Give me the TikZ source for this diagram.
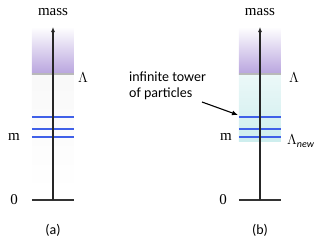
\documentclass[tikz,border=0pt]{standalone}
\usepackage{fontspec}
\setmainfont{Liberation Serif}
\newfontfamily\labelsans{Carlito}
\usetikzlibrary{arrows.meta}
\definecolor{purp}{RGB}{184,164,222}
\definecolor{tealtop}{RGB}{236,248,248}
\definecolor{tealbot}{RGB}{206,238,238}
\definecolor{lvl}{RGB}{64,96,232}
\tikzset{
  serlab/.style={font=\fontsize{15}{17}\selectfont, inner sep=0pt},
  sanslab/.style={font=\labelsans\fontsize{14}{16}\selectfont, inner sep=0pt},
  level/.style={draw=lvl, line width=1.4pt},
  cutline/.style={draw=gray!55, line width=1.4pt},
  axisline/.style={draw=black!85, line width=1.1pt, -{Latex[length=5pt,width=4pt]}},
  baseline/.style={draw=black!80, line width=1.4pt},
}
\begin{document}
\begin{tikzpicture}[x=1pt,y=-1pt]
\useasboundingbox (0,0) rectangle (317,242);
% ---------- panel (a)
\shade[top color=white, bottom color=purp] (32,27) rectangle (74,74);
\shade[top color=gray!5, bottom color=white] (32,74) rectangle (74,192);
\draw[cutline] (32,74) -- (74,74);
\foreach \yy in {117,129,137} \draw[level] (32,\yy) -- (74,\yy);
\draw[baseline] (32,200) -- (74,200);
\coordinate (a0) at (53,200);
\coordinate (atop) at (53,27);
\draw[axisline] (a0) -- (atop);
\node[serlab] (massa) at (53,12) {mass};
\node[serlab] (lama) at (83,78) {$\Lambda$};
\node[serlab] (ma) at (14,137) {m};
\node[serlab] (za) at (14,200) {0};
\node[sanslab] (capa) at (53,230) {(a)};
% ---------- panel (b)
\shade[top color=white, bottom color=purp] (239,27) rectangle (281,74);
\shade[top color=tealtop, bottom color=tealbot] (239,74) rectangle (281,141);
\draw[cutline] (239,74) -- (281,74);
\foreach \yy in {117,129,137} \draw[level] (239,\yy) -- (281,\yy);
\draw[baseline] (239,200) -- (281,200);
\coordinate (b0) at (260,200);
\coordinate (btop) at (260,27);
\draw[axisline] (b0) -- (btop);
\node[serlab] (massb) at (260,12) {mass};
\node[serlab] (lamb) at (294,78) {$\Lambda$};
\node[serlab, anchor=west] (lamnew) at (287,141) {$\Lambda$\raisebox{-2.5pt}{\labelsans\itshape\fontsize{10}{10}\selectfont new}};
\node[serlab] (mb) at (226,137) {m};
\node[serlab] (zb) at (223,200) {0};
\node[sanslab] (capb) at (260,230) {(b)};
% ---------- annotation
\node[sanslab, align=left, anchor=north west] (tower) at (129,72) {infinite tower\\of particles};
\coordinate (arrtip) at (238,115);
\draw[line width=1.1pt, -{Latex[length=6pt,width=5pt]}] (202,102) -- (arrtip);
\end{tikzpicture}
\end{document}
